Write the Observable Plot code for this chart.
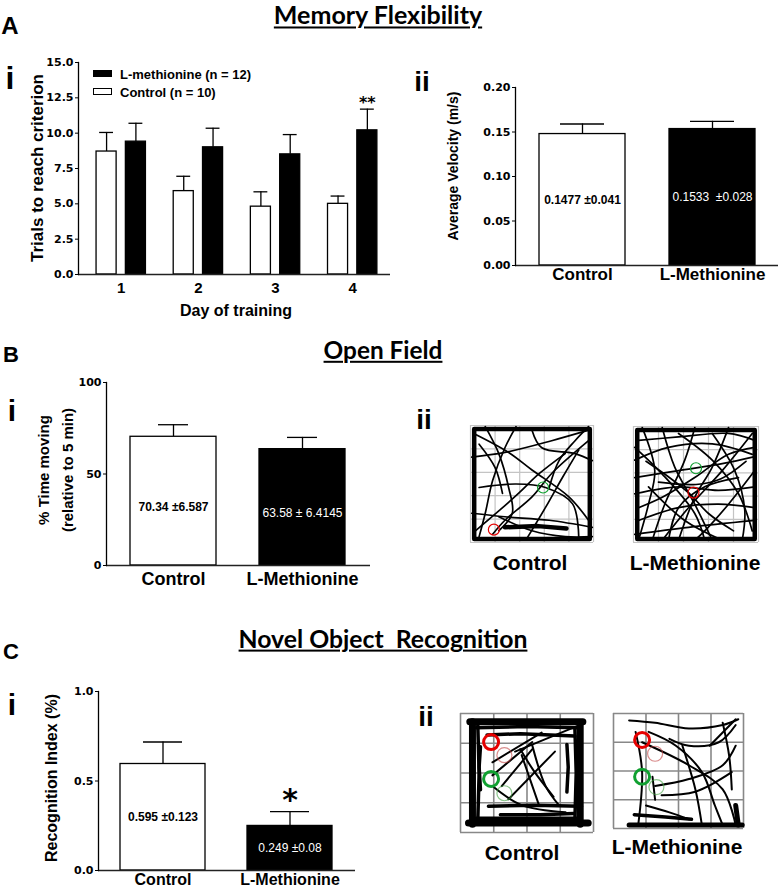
<!DOCTYPE html>
<html><head><meta charset="utf-8">
<script src="https://cdn.jsdelivr.net/npm/d3@7"></script>
<script src="https://cdn.jsdelivr.net/npm/@observablehq/plot@0.6"></script>
<style>
body{margin:0;background:#fff}
#fig{position:relative;width:778px;height:892px;overflow:hidden;background:#fff;color:#000}
</style></head><body><div id="fig"></div>
<script>
// ---------- Panel A(i): trials to reach criterion ----------
const trainingDays = [1, 2, 3, 4];
const trialsControl = [8.7, 5.9, 4.8, 5.0];
const trialsControlSem = [1.35, 1.05, 1.05, 0.55];
const trialsMethionine = [9.4, 9.0, 8.5, 10.2];
const trialsMethionineSem = [1.3, 1.35, 1.4, 1.5];
const trialsTicks = [0, 2.5, 5, 7.5, 10, 12.5, 15];
const trialsSignificance = ["", "", "", "**"];
const trialGroups = ["Control", "L-methionine"];
const legendLabels = ["L-methionine (n = 12)", "Control (n = 10)"];

// ---------- Panel A(ii): average velocity ----------
const groups = ["Control", "L-Methionine"];
const velocityMean = [0.1477, 0.1533];
const velocitySem = [0.0113, 0.0087];
const velocityText = ["0.1477 \u00b10.041", "0.1533  \u00b10.028"];
const velocityTicks = [0, 0.05, 0.10, 0.15, 0.20];

// ---------- Panel B(i): % time moving ----------
const movingMean = [70.34, 63.58];
const movingErr = [6.587, 6.4145];
const movingText = ["70.34 \u00b16.587", "63.58 \u00b1 6.4145"];
const movingTicks = [0, 50, 100];

// ---------- Panel C(i): recognition index ----------
const recogMean = [0.595, 0.249];
const recogErr = [0.123, 0.08];
const recogText = ["0.595 \u00b10.123", "0.249 \u00b10.08"];
const recogTicks = [0, 0.5, 1.0];
const recogSignificance = ["", "*"];

// ---------- Track plots (arena units 0-100, x right, y down) ----------
const ofGrid = [0, 20, 40, 60, 80, 100];
const norGrid = [0, 25, 50, 75, 100];

const ofControlPaths = [
  [[3,7],[31,23],[50,38],[80,61],[96,81]],
  [[1,27],[28,23],[66,13],[96,4]],
  [[12,1],[23,24],[31,53],[34,75],[23,90]],
  [[37,1],[28,19],[18,47],[12,75],[7,95]],
  [[50,4],[58,19],[85,24],[99,30]],
  [[96,13],[66,41],[50,61],[28,81],[18,93]],
  [[7,53],[37,50],[61,53],[83,67],[88,95]],
  [[1,75],[28,78],[64,81],[99,87]],
  [[23,78],[50,90],[77,95],[99,95]],
  [[64,53],[72,30],[85,13],[96,1]],
  [[4,90],[23,73],[39,58],[56,41],[77,24]],
  [[45,98],[61,70],[75,44],[88,21]],
  [[7,16],[20,36],[26,58]]
];
const ofControlWalls = [
  [[3,3],[97,3],[97,97],[3,97],[3,3]],
  [[28,87],[55,86],[78,88]]
];
const ofControlObjects = [{object:"B", u:59, v:53}, {object:"A", u:19, v:89}];

const ofMetPaths = [
  [[4,12],[36,9],[76,6],[97,12]],
  [[1,29],[28,18],[63,15],[95,24]],
  [[7,1],[17,38],[12,67],[4,98]],
  [[23,1],[33,35],[49,67],[63,98]],
  [[49,1],[41,29],[25,67],[15,98]],
  [[76,1],[63,35],[49,61],[36,98]],
  [[95,6],[71,38],[44,70],[23,98]],
  [[1,44],[36,38],[71,32],[97,26]],
  [[1,58],[36,52],[68,55],[97,52]],
  [[4,81],[36,70],[68,67],[97,70]],
  [[1,93],[44,87],[97,81]],
  [[12,52],[41,81],[71,98]],
  [[36,6],[63,29],[84,58],[95,90]],
  [[63,6],[81,38],[89,72],[87,98]],
  [[1,18],[23,41],[49,75],[57,98]],
  [[97,38],[76,67],[57,90],[49,98]],
  [[4,70],[23,61],[49,44],[76,24],[97,18]],
  [[28,98],[36,70],[57,52],[84,44]],
  [[10,30],[30,45],[45,58],[60,75],[80,90]],
  [[90,30],[70,45],[50,50],[20,48]]
];
const ofMetWalls = [
  [[3,3],[97,3],[97,97],[3,97],[3,3]]
];
const ofMetObjects = [{object:"B", u:50, v:36}, {object:"A", u:48, v:57}];

const norControlWalls = [
  [[7,7],[92,7]], [[9,7],[9,93]], [[90,9],[90,93]], [[6,92],[96,92]]
];
const norControlBands = [
  [[20,18],[45,17],[86,19]], [[15,28],[14,45],[15,64]], [[80,26],[81,45],[80,66]],
  [[21,78],[55,77],[91,78]], [[30,85],[60,85],[85,84]],
  [[13,10],[14,50],[13,90]], [[86,12],[87,50],[86,90]], [[12,88],[50,88],[88,88]],
  [[12,12],[50,11],[88,12]]
];
const norControlPaths = [
  [[24,41],[61,16]], [[24,52],[54,24]], [[31,61],[54,30]],
  [[54,27],[64,61],[74,77]], [[46,35],[59,77]], [[36,72],[71,32]],
  [[41,32],[89,10]], [[24,61],[46,77],[79,83]], [[45,30],[55,48],[70,70]]
];
const norControlObjects = [
  {object:"A", trial:"test", u:23, v:24}, {object:"A", trial:"sample", u:33, v:35},
  {object:"B", trial:"test", u:23, v:55}, {object:"B", trial:"sample", u:33, v:67}
];

const norMetWalls = [
  [[12,97],[99,97]], [[94,80],[96,97]]
];
const norMetBands = [
  [[16,88],[40,90],[60,92]]
];
const norMetPaths = [
  [[12,6],[32,8],[58,13],[84,10],[96,5]],
  [[17,16],[22,51],[19,97]],
  [[22,25],[58,45],[84,66],[94,97]],
  [[27,16],[48,28],[68,51],[78,80],[84,97]],
  [[32,63],[58,57],[84,45],[94,28]],
  [[37,71],[63,68],[91,51]],
  [[43,22],[58,28],[81,25],[94,10]],
  [[84,8],[89,37],[91,66]],
  [[53,28],[63,66],[68,97]],
  [[25,80],[43,86],[58,92]],
  [[94,5],[74,28]],
  [[30,55],[32,75]]
];
const norMetObjects = [
  {object:"A", trial:"test", u:22, v:23}, {object:"A", trial:"sample", u:32, v:35},
  {object:"B", trial:"test", u:22, v:55}, {object:"B", trial:"sample", u:33, v:64}
];

// ================= rendering =================
const fig = document.getElementById("fig");
const SANS = '"Liberation Sans", Arial, sans-serif';
function put(node, left, top) {
  node.style.position = "absolute";
  node.style.left = left + "px";
  node.style.top = top + "px";
  fig.appendChild(node);
  return node;
}
function txt(s, cx, cy, size, o = {}) {
  const d = document.createElement("div");
  d.textContent = s;
  d.style.cssText = `position:absolute;left:${cx}px;top:${cy}px;font-size:${size}px;line-height:1;white-space:pre;` +
    `font-weight:${o.weight || "bold"};font-family:${o.family || SANS};color:${o.color || "#000"};` +
    `transform:translate(-50%,-50%)${o.rotate ? " rotate(-90deg)" : ""};` + (o.extra || "");
  fig.appendChild(d);
  return d;
}
const ctx = document.createElement("canvas").getContext("2d");
function fitSize(s, family, targetWidth) {
  ctx.font = `bold 100px ${family}`;
  return 100 * targetWidth / ctx.measureText(s).width;
}
function title(s, cx, cy, targetWidth) {
  const size = fitSize(s, "Lato", targetWidth);
  txt(s, cx, cy, size, {family: "Lato", extra: "text-decoration:underline;text-decoration-thickness:2px;text-underline-offset:2px;"});
}
const baseStyle = {fontFamily: SANS, background: "transparent", overflow: "visible"};
const tickFont = {fontFamily: "DejaVu Sans", fontWeight: "bold", fontSize: 11};

// ---- A(i)
{
  const rows = trainingDays.flatMap((day, i) => [
    {day, group: trialGroups[0], mean: trialsControl[i], err: trialsControlSem[i], sig: ""},
    {day, group: trialGroups[1], mean: trialsMethionine[i], err: trialsMethionineSem[i], sig: trialsSignificance[i]}
  ]);
  const dodge = g => (g === trialGroups[0] ? -0.19 : 0.19);
  const half = 0.13, cap = 0.09;
  const cx = d => d.day + dodge(d.group);
  const chart = Plot.plot({
    width: 400, height: 247, marginLeft: 78, marginRight: 10, marginTop: 10, marginBottom: 25,
    style: baseStyle,
    x: {domain: [0.446, 4.49]},
    y: {domain: [0, 15]},
    marks: [
      Plot.ruleX(rows, {x: cx, y1: "mean", y2: d => d.mean + d.err, stroke: "black", strokeWidth: 1.3}),
      Plot.ruleY(rows, {y: d => d.mean + d.err, x1: d => cx(d) - cap, x2: d => cx(d) + cap, stroke: "black", strokeWidth: 1.3}),
      Plot.rectY(rows.filter(d => d.group === trialGroups[0]), {x1: d => cx(d) - half, x2: d => cx(d) + half, y1: 0, y2: "mean", fill: "white", stroke: "black", strokeWidth: 1.3}),
      Plot.rectY(rows.filter(d => d.group === trialGroups[1]), {x1: d => cx(d) - half, x2: d => cx(d) + half, y1: 0, y2: "mean", fill: "black", stroke: "black", strokeWidth: 1.3}),
      Plot.text(rows.filter(d => d.sig), {x: cx, y: d => d.mean + d.err, text: "sig", dy: -6, fontFamily: "DejaVu Sans", fontWeight: "bold", fontSize: 16}),
      Plot.ruleY([0], {stroke: "#222", strokeWidth: 1.5}),
      Plot.frame({anchor: "left", strokeWidth: 1.3}),
      Plot.axisY({ticks: trialsTicks, tickFormat: d => d.toFixed(1), tickSize: 3, tickPadding: 2, label: null, ...tickFont}),
      Plot.axisX({ticks: trainingDays, tickFormat: d => String(d), tickSize: 0, tickPadding: 8, label: null, fontWeight: "bold", fontSize: 15})
    ]
  });
  put(chart, 0, 52);
  const sw = (top, fill) => {
    const s = document.createElement("div");
    s.style.cssText = `position:absolute;left:93px;top:${top}px;width:19px;height:7px;background:${fill};border:1px solid #000;box-sizing:border-box;`;
    fig.appendChild(s);
  };
  sw(70, "#000"); sw(88, "#fff");
  const lg = (s, cy) => { const d = txt(s, 120, cy, 13); d.style.transform = "translate(0,-50%)"; };
  lg(legendLabels[0], 74); lg(legendLabels[1], 92);
  txt("Trials to reach criterion", 37, 168, 17, {rotate: true});
  txt("Day of training", 236, 311, 16);
}

// ---- bar charts with two groups
function barChart(cfg) {
  const rows = groups.map((group, i) => ({group, mean: cfg.mean[i], err: cfg.err[i], label: cfg.text[i], sig: cfg.sig ? cfg.sig[i] : ""}));
  const chart = Plot.plot({
    width: cfg.w, height: cfg.h, marginLeft: cfg.ml, marginRight: 0, marginTop: cfg.mt, marginBottom: cfg.mb,
    style: baseStyle,
    x: {domain: groups, paddingInner: cfg.pi, paddingOuter: cfg.po},
    y: {domain: cfg.yDomain},
    marks: [
      Plot.ruleX(rows, {x: "group", y1: "mean", y2: d => d.mean + d.err, stroke: "black", strokeWidth: 1.3}),
      Plot.tickY(rows, {x: "group", y: d => d.mean + d.err, stroke: "black", strokeWidth: 1.3, insetLeft: cfg.capInset, insetRight: cfg.capInset}),
      Plot.barY(rows.filter(d => d.group === groups[0]), {x: "group", y: "mean", fill: "white", stroke: "black", strokeWidth: 1.3}),
      Plot.barY(rows.filter(d => d.group === groups[1]), {x: "group", y: "mean", fill: "black", stroke: "black", strokeWidth: 1.3}),
      Plot.text(rows.filter(d => d.group === groups[0]), {x: "group", y: d => d.mean * cfg.labelFrac, text: "label", fill: "black", fontWeight: "bold", fontSize: 12}),
      Plot.text(rows.filter(d => d.group === groups[1]), {x: "group", y: d => d.mean * cfg.labelFrac, text: "label", fill: "white", fontSize: 12}),
      Plot.text(rows.filter(d => d.sig), {x: "group", y: d => d.mean + d.err, text: "sig", dy: cfg.sigDy || 0, fontFamily: "DejaVu Sans", fontWeight: "bold", fontSize: cfg.sigSize || 20}),
      Plot.ruleY([0], {stroke: "#222", strokeWidth: 1.5}),
      Plot.frame({anchor: "left", strokeWidth: 1.3}),
      Plot.axisY({ticks: cfg.ticks, tickFormat: cfg.fmt, tickSize: 3, tickPadding: 2, label: null, ...tickFont}),
      Plot.axisX({tickSize: 0, tickPadding: cfg.xPad, label: null, fontWeight: "bold", fontSize: cfg.xFont})
    ]
  });
  put(chart, cfg.left, cfg.top);
}

barChart({mean: velocityMean, err: velocitySem, text: velocityText, yDomain: [0, 0.2], ticks: velocityTicks, fmt: d => d.toFixed(2),
  w: 363, h: 218, ml: 100, mt: 10, mb: 30, pi: 0.34, po: 0.18, capInset: 21, labelFrac: 0.5, xFont: 17, xPad: 2, left: 415, top: 77});
barChart({mean: movingMean, err: movingErr, text: movingText, yDomain: [0, 100], ticks: movingTicks, fmt: d => String(d),
  w: 364, h: 223, ml: 100, mt: 10, mb: 30, pi: 0.331, po: 0.181, capInset: 28, labelFrac: 0.45, xFont: 18, xPad: 7, left: 6, top: 372});
barChart({mean: recogMean, err: recogErr, text: recogText, sig: recogSignificance, sigSize: 30, sigDy: -11, yDomain: [0, 1], ticks: recogTicks, fmt: d => d.toFixed(1),
  w: 355, h: 210, ml: 98, mt: 10, mb: 21, pi: 0.328, po: 0.168, capInset: 23, labelFrac: 0.5, xFont: 16, xPad: 3, left: 0, top: 681});

txt("Average Velocity (m/s)", 453, 166, 14, {rotate: true});
txt("% Time moving", 43, 470, 15, {rotate: true});
txt("(relative to 5 min)", 67, 470, 15, {rotate: true});
txt("Recognition Index (%)", 52, 778, 16, {rotate: true});

// ---- arenas
const toRows = paths => paths.flatMap((p, id) => p.map(([u, v]) => ({id, u, v})));
function arena(cfg) {
  const pad = 2;
  const marks = [
    Plot.ruleX(cfg.grid, {x: d => d, stroke: cfg.gridStroke, strokeWidth: cfg.gridWidth}),
    Plot.ruleY(cfg.grid, {y: d => d, stroke: cfg.gridStroke, strokeWidth: cfg.gridWidth}),
    Plot.line(toRows(cfg.paths), {x: "u", y: "v", z: "id", stroke: "black", strokeWidth: cfg.pathWidth, curve: "catmull-rom"}),
    Plot.line(toRows(cfg.bands || []), {x: "u", y: "v", z: "id", stroke: "black", strokeWidth: cfg.bandWidth || 3.5}),
    Plot.line(toRows(cfg.walls), {x: "u", y: "v", z: "id", stroke: "black", strokeWidth: cfg.wallWidth}),
  ];
  const objs = cfg.objects;
  const faint = objs.filter(d => d.trial === "sample");
  const bold = objs.filter(d => d.trial !== "sample");
  marks.push(
    Plot.dot(faint.filter(d => d.object === "A"), {x: "u", y: "v", r: cfg.r, stroke: "#c04040", strokeOpacity: 0.6, strokeWidth: 1.2}),
    Plot.dot(faint.filter(d => d.object === "B"), {x: "u", y: "v", r: cfg.r, stroke: "#40a040", strokeOpacity: 0.6, strokeWidth: 1.2}),
    Plot.dot(bold.filter(d => d.object === "A"), {x: "u", y: "v", r: cfg.r, stroke: "#e60000", strokeWidth: cfg.objWidth}),
    Plot.dot(bold.filter(d => d.object === "B"), {x: "u", y: "v", r: cfg.r, stroke: "#10a030", strokeWidth: cfg.objWidth})
  );
  const chart = Plot.plot({
    width: cfg.w + 2 * pad, height: cfg.h + 2 * pad, margin: pad,
    style: baseStyle,
    x: {domain: [0, 100], axis: null},
    y: {domain: [0, 100], reverse: true, axis: null},
    marks
  });
  put(chart, cfg.left - pad, cfg.top - pad);
}
arena({grid: ofGrid, gridStroke: "#c4c4c4", gridWidth: 1.2, paths: ofControlPaths, pathWidth: 1.7, walls: ofControlWalls, wallWidth: 4.5,
  objects: ofControlObjects, r: 5.5, objWidth: 1.2, w: 123, h: 117, left: 470, top: 425});
arena({grid: ofGrid, gridStroke: "#c4c4c4", gridWidth: 1.2, paths: ofMetPaths, pathWidth: 1.7, walls: ofMetWalls, wallWidth: 4.5,
  objects: ofMetObjects, r: 5.5, objWidth: 1.2, w: 125, h: 116, left: 633, top: 426});
arena({grid: norGrid, gridStroke: "#888", gridWidth: 1.6, paths: norControlPaths, pathWidth: 2, bands: norControlBands, bandWidth: 3.5,
  walls: norControlWalls, wallWidth: 7, objects: norControlObjects, r: 7.5, objWidth: 3, w: 133, h: 119, left: 460, top: 713});
arena({grid: norGrid, gridStroke: "#888", gridWidth: 1.6, paths: norMetPaths, pathWidth: 2, bands: norMetBands, bandWidth: 3.5,
  walls: norMetWalls, wallWidth: 5, objects: norMetObjects, r: 7.5, objWidth: 3, w: 130, h: 115, left: 613, top: 713});

txt(groups[0], 530, 562, 21); txt(groups[1], 695, 562, 21);
txt(groups[0], 522, 852, 21); txt(groups[1], 677, 846, 21);

// ---- titles, panel letters, sub-panel numerals
title("Memory Flexibility", 378, 15, 209);
title("Open Field", 383, 350, 119);
title("Novel Object  Recognition", 383, 639, 289);
txt("A", 10, 26, 24); txt("B", 11, 355, 22); txt("C", 11, 652, 22);
txt("i", 10, 78, 32); txt("ii", 422, 82, 28);
txt("i", 12, 411, 30); txt("ii", 424, 420, 28);
txt("i", 12, 705, 30); txt("ii", 426, 717, 28);
</script></body></html>
